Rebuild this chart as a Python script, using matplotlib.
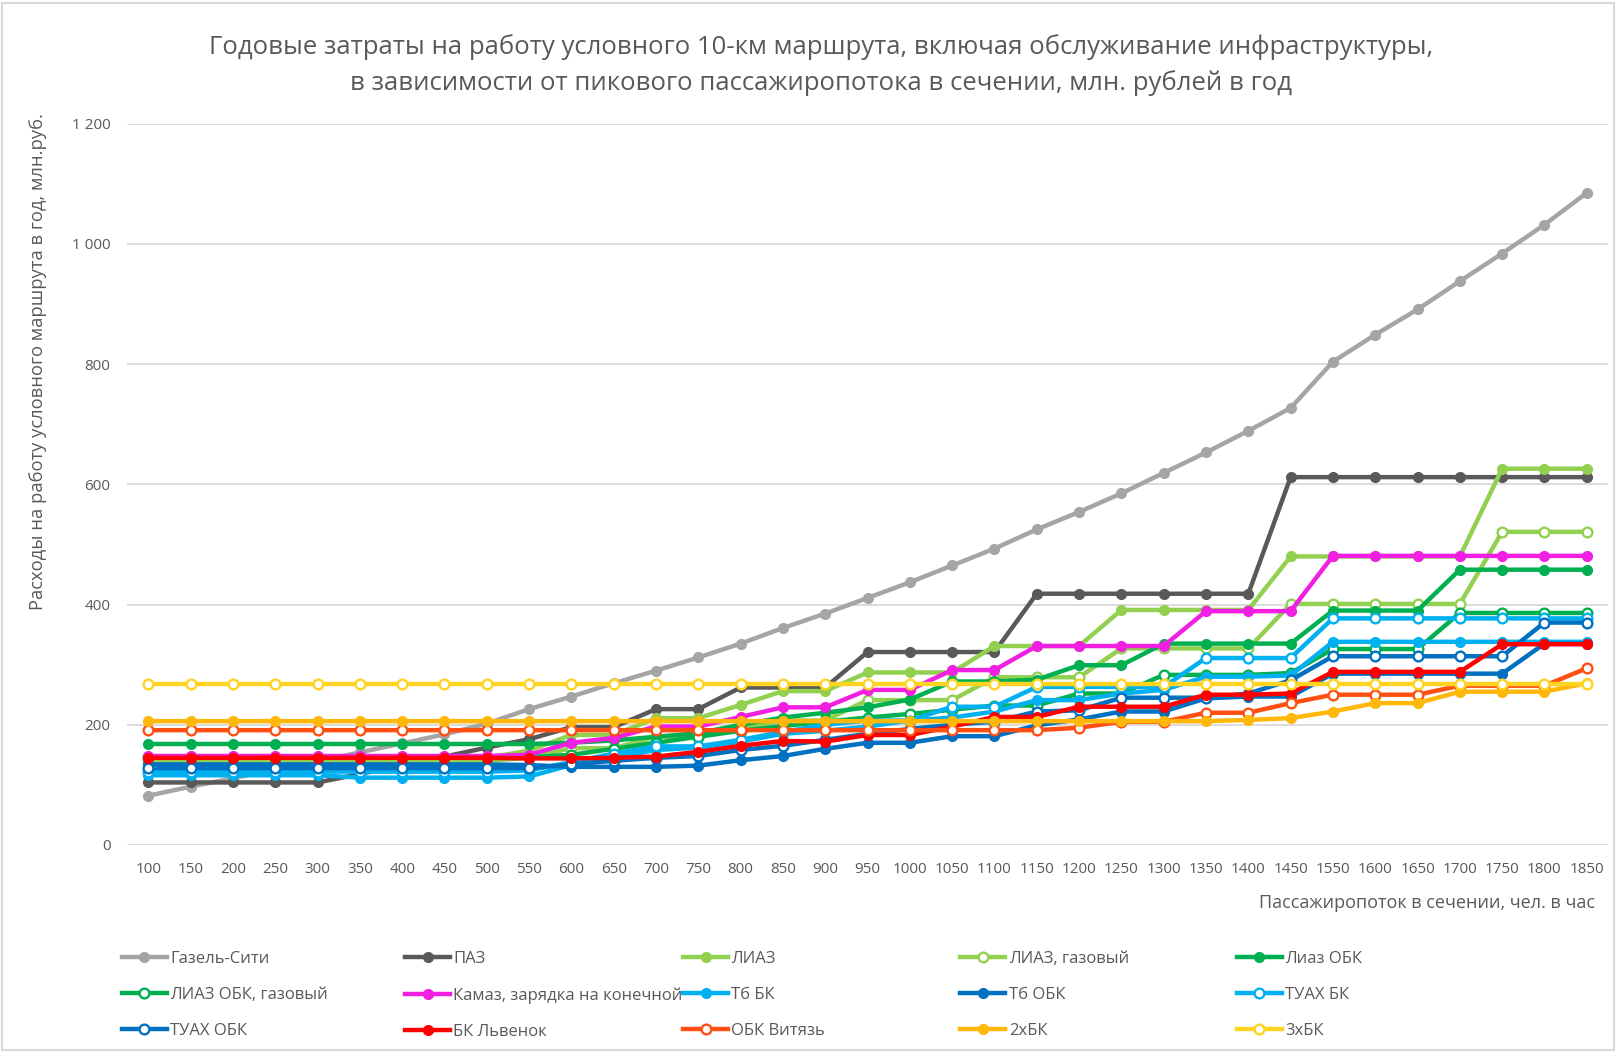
import matplotlib
matplotlib.use("Agg")
import matplotlib.pyplot as plt
from matplotlib.patches import Rectangle

plt.rcParams['font.family'] = ['Open Sans', 'DejaVu Sans']

# пассажиропоток в сечении, чел. в час (1500 в исходной таблице нет)
cats = [100, 150, 200, 250, 300, 350, 400, 450, 500, 550, 600, 650, 700, 750,
        800, 850, 900, 950, 1000, 1050, 1100, 1150, 1200, 1250, 1300, 1350,
        1400, 1450, 1550, 1600, 1650, 1700, 1750, 1800, 1850]
labels = [str(c) for c in cats]

# млн. руб. в год
gazel = [82, 97, 111, 125, 139, 154, 169, 184, 202, 226, 247, 269, 290, 312,
         335, 361, 385, 411, 437, 465, 493, 525, 554, 585, 619, 653, 689, 727,
         804, 849, 891, 938, 984, 1032, 1085]
paz = [104, 104, 104, 104, 104, 118, 133, 147, 162, 176, 196, 196, 226, 226,
       262, 262, 262, 321, 321, 321, 321, 418, 418, 418, 418, 418, 418, 612,
       612, 612, 612, 612, 612, 612, 612]
liaz = [145, 145, 145, 145, 145, 145, 145, 145, 145, 157, 183, 183, 211, 211,
        233, 256, 256, 287, 287, 287, 331, 331, 331, 391, 391, 391, 391, 480,
        480, 480, 480, 480, 626, 626, 626]
liaz_gas = [140, 140, 140, 140, 140, 140, 140, 140, 140, 145, 161, 161, 180, 180,
            195, 207, 207, 241, 241, 241, 279, 279, 279, 327, 327, 327, 327, 401,
            401, 401, 401, 401, 521, 521, 521]
liaz_obk = [168, 168, 168, 168, 168, 168, 168, 168, 168, 168, 170, 174, 180, 186,
            200, 212, 220, 229, 242, 272, 272, 275, 299, 299, 335, 335, 335, 335,
            390, 390, 390, 458, 458, 458, 458]
liaz_obk_gas = [146, 146, 146, 146, 146, 146, 146, 146, 146, 146, 150, 160, 170, 180,
                190, 198, 205, 212, 218, 225, 232, 232, 252, 252, 283, 283, 283, 286,
                326, 326, 326, 386, 386, 386, 386]
kamaz = [148, 148, 148, 148, 148, 148, 148, 148, 148, 150, 170, 178, 197, 197,
         213, 229, 229, 258, 258, 291, 291, 331, 331, 331, 331, 389, 389, 389,
         481, 481, 481, 481, 481, 481, 481]
tb_bk = [116, 116, 116, 116, 116, 112, 112, 112, 112, 114, 133, 145, 158, 162,
         172, 185, 190, 197, 207, 212, 222, 241, 241, 252, 258, 280, 280, 282,
         338, 338, 338, 338, 338, 338, 338]
tb_obk = [134, 134, 134, 134, 134, 134, 134, 134, 134, 133, 130, 130, 130, 132,
          141, 148, 160, 170, 170, 181, 181, 199, 209, 222, 222, 244, 247, 247,
          285, 285, 285, 285, 285, 335, 335]
tuah_bk = [122, 122, 122, 122, 122, 122, 122, 122, 122, 124, 138, 152, 164, 164,
           175, 188, 200, 207, 207, 230, 230, 263, 263, 263, 263, 311, 311, 311,
           377, 377, 377, 377, 377, 377, 377]
tuah_obk = [128, 128, 128, 128, 128, 128, 128, 128, 128, 128, 134, 140, 145, 148,
            158, 165, 175, 185, 193, 200, 205, 222, 224, 245, 245, 245, 252, 274,
            314, 314, 314, 314, 314, 370, 370]
lvenok = [145, 145, 145, 145, 145, 145, 145, 145, 145, 144, 144, 145, 147, 155,
          165, 173, 172, 183, 183, 197, 213, 213, 230, 230, 230, 250, 250, 252,
          288, 288, 288, 288, 334, 334, 334]
vityaz = [191, 191, 191, 191, 191, 191, 191, 191, 191, 191, 191, 191, 191, 191,
          191, 191, 191, 191, 191, 191, 191, 191, 195, 205, 205, 220, 220, 236,
          250, 250, 250, 265, 265, 265, 294]
two_bk = [206, 206, 206, 206, 206, 206, 206, 206, 206, 206, 206, 206, 206, 206,
          206, 206, 206, 206, 206, 206, 206, 206, 206, 206, 206, 206, 208, 211,
          222, 236, 236, 255, 255, 255, 269]
three_bk = [268] * len(cats)

names = ["Газель-Сити", "ПАЗ", "ЛИАЗ", "ЛИАЗ, газовый", "Лиаз ОБК",
         "ЛИАЗ ОБК, газовый", "Камаз, зарядка на конечной", "Тб БК", "Тб ОБК", "ТУАХ БК",
         "ТУАХ ОБК", "БК Львенок", "ОБК Витязь", "2хБК", "3хБК"]
values = [gazel, paz, liaz, liaz_gas, liaz_obk, liaz_obk_gas, kamaz, tb_bk, tb_obk,
          tuah_bk, tuah_obk, lvenok, vityaz, two_bk, three_bk]
colors = ['#A5A5A5', '#595959', '#92D050', '#92D050', '#00B050', '#00B050', '#F01FE2',
          '#00B0F0', '#0070C0', '#00B0F0', '#0070C0', '#FF0000', '#FF4F12', '#FFB70A', '#FFD322']
filled = [True, True, True, False, True, False, True, True, True, False, False,
          True, False, True, False]

txt = '#595959'

fig = plt.figure(figsize=(16.16, 10.52), dpi=100)
ax = fig.add_axes([0.0787, 0.1968, 0.9163, 0.6856])

handles = []
for name, vals, col, f in zip(names, values, colors, filled):
    h, = ax.plot(labels, vals, color=col, lw=3.2, marker='o', ms=7,
                 mfc=col if f else 'white', mec=col, mew=1.0 if f else 1.7,
                 label=name, solid_joinstyle='round')
    handles.append(h)

ax.set_xlim(-0.5, len(cats) - 0.5)
ax.set_ylim(0, 1200)
yt = list(range(0, 1201, 200))
ax.set_yticks(yt)
ax.set_yticklabels([f"{v:,}".replace(",", " ") for v in yt])
ax.yaxis.grid(True, color='#D9D9D9', lw=1.3)
ax.set_axisbelow(True)
for s in ax.spines.values():
    s.set_visible(False)
ax.tick_params(axis='both', length=0, labelsize=11, labelcolor=txt)
ax.tick_params(axis='y', pad=12)
ax.tick_params(axis='x', pad=12)

fig.text(0.508, 0.9385,
         "Годовые затраты на работу условного 10-км маршрута, включая обслуживание инфраструктуры,\n"
         "в зависимости от пикового пассажиропотока в сечении, млн. рублей в год",
         ha='center', va='center', fontsize=18.5, color=txt, linespacing=1.5)
fig.text(38 / 1616, 1 - 362 / 1052, "Расходы на работу условного маршрута в год, млн.руб.",
         rotation=90, ha='center', va='center', fontsize=13.2, color=txt)
fig.text(1595 / 1616, 1 - 903 / 1052, "Пассажиропоток в сечении, чел. в час",
         ha='right', va='center', fontsize=13, color=txt)

# легенда: 5 столбцов, заполнение по строкам
col_x = [121.6, 405, 683, 960.5, 1236.7]
for c in range(5):
    idx = [i for i in (c, c + 5, c + 10) if i < len(names)]
    fig.legend([handles[i] for i in idx], [names[i] for i in idx],
               loc='upper left', bbox_to_anchor=(col_x[c] / 1616, 0.0958),
               frameon=False, fontsize=12, handlelength=2.7, handletextpad=0.2,
               labelspacing=1.2, borderpad=0, borderaxespad=0, labelcolor=txt)

fig.add_artist(Rectangle((0.0012, 0.0015), 0.9976, 0.996, transform=fig.transFigure,
                         fill=False, edgecolor='#D9D9D9', lw=1.5))

fig.savefig("out.png", dpi=100, facecolor='white')
